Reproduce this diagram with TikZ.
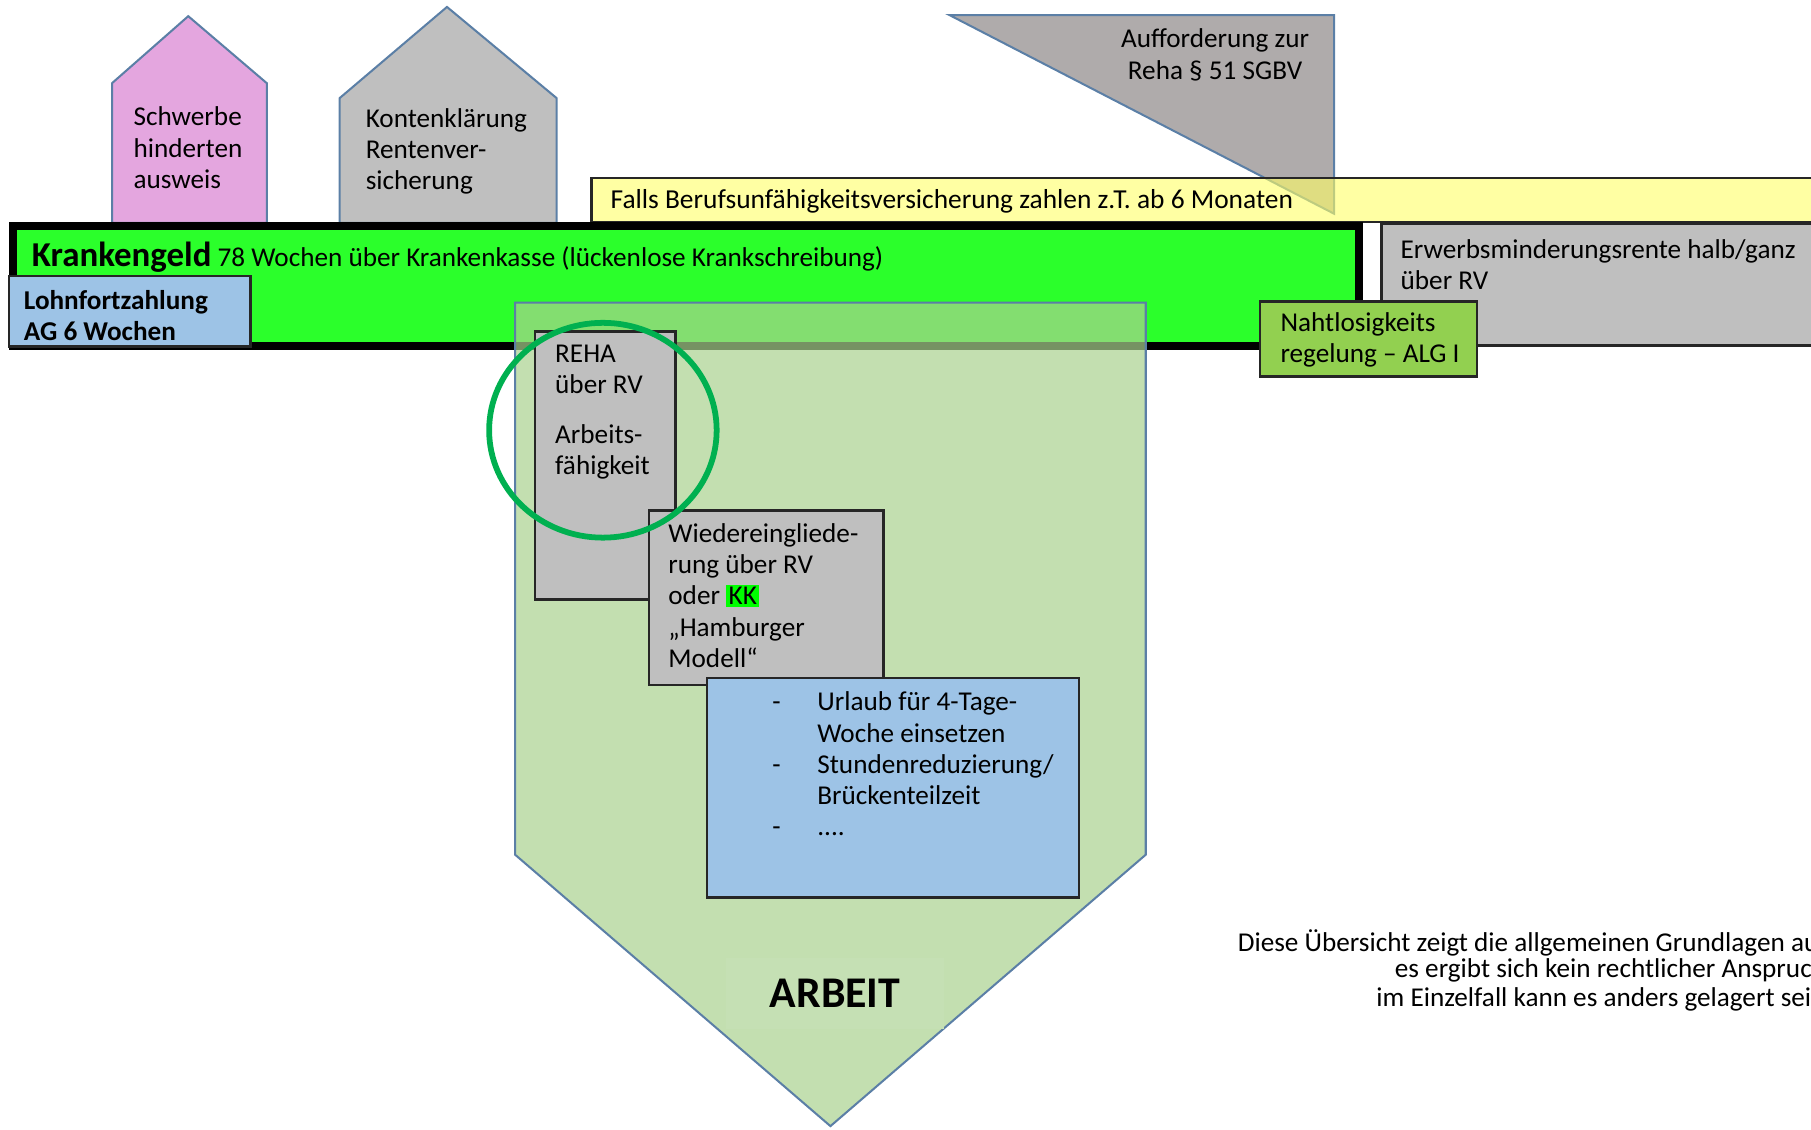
\documentclass[tikz,border=0pt]{standalone}
\usepackage{fontspec}
\setmainfont{Carlito}

\definecolor{houseViolet}{HTML}{E4A6DF}
\definecolor{boxGray}{HTML}{BFBFBF}
\definecolor{triGray}{HTML}{AFABAB}
\definecolor{paleYellow}{HTML}{FFFF66}
\definecolor{brightGreen}{HTML}{2BFF2B}
\definecolor{paleBlue}{HTML}{9DC3E6}
\definecolor{leafGreen}{HTML}{92D050}
\definecolor{ringGreen}{HTML}{00B050}
\definecolor{arrowGreen}{HTML}{A9D18E}
\definecolor{labelGreen}{HTML}{C5E0B4}
\definecolor{shapeLine}{HTML}{5B7FA6}
\definecolor{markGreen}{HTML}{00FF00}

\begin{document}
\begin{tikzpicture}
            [x=1cm, y=-1cm,
            myText/.style={font=\fontsize{6.7}{7.7}\selectfont,
                        align=left,
                        anchor=west,
                        inner sep=0pt},
            myShape/.style={draw=shapeLine, line width=0.5pt},
            myBox/.style={draw=black!85, line width=0.6pt}]

            \useasboundingbox (0,0) rectangle (15.68,9.78);
            \clip (0,0) rectangle (15.68,9.78);

            % Haeuser oben
            \draw[myShape, fill=houseViolet] (0.97,1.93) -- (0.97,0.72) -- (1.63,0.14) -- (2.31,0.72) -- (2.31,1.93) -- cycle;
            \draw[myShape, fill=boxGray] (2.94,1.93) -- (2.94,0.85) -- (3.87,0.06) -- (4.82,0.85) -- (4.82,1.93) -- cycle;
            \draw[myShape, fill=triGray] (8.22,0.13) -- (11.55,0.13) -- (11.55,1.85) -- cycle;

            \node[myText] (schwerbehindertenausweis) at (1.15,1.28) {Schwerbe\\hinderten\\ausweis};
            \node[myText] (kontenklaerung) at (3.16,1.31) {Kontenklärung\\Rentenver-\\sicherung};
            \node[myText, align=center, anchor=center] (aufforderungReha) at (10.52,0.475) {Aufforderung zur\\Reha § 51 SGBV};

            % Balken
            \draw[myBox, fill=paleYellow, fill opacity=0.6] (5.12,1.54) rectangle (16,1.92);
            \node[myText, font=\fontsize{6.75}{7.7}\selectfont] (berufsunfaehigkeit) at (5.28,1.745) {Falls Berufsunfähigkeitsversicherung zahlen z.T. ab 6 Monaten};

            \draw[line width=0.07cm, fill=brightGreen] (0.115,1.955) rectangle (11.765,2.995);
            \node[myText] (krankengeld) at (0.27,2.23) {{\bfseries\fontsize{8.6}{10}\selectfont Krankengeld} 78 Wochen über Krankenkasse (lückenlose Krankschreibung)};

            \draw[myBox, fill=boxGray] (11.96,1.94) rectangle (16,2.99);
            \node[myText] (erwerbsminderungsrente) at (12.12,2.29) {Erwerbsminderungsrente halb/ganz\\über RV};

            \draw[myBox, fill=paleBlue] (0.08,2.39) rectangle (2.17,3.00);
            \node[myText, font=\bfseries\fontsize{6.7}{7.7}\selectfont] (lohnfortzahlung) at (0.20,2.73) {Lohnfortzahlung\\AG 6 Wochen};

            \draw[myBox, fill=leafGreen] (10.91,2.61) rectangle (12.79,3.26);
            \node[myText] (nahtlosigkeit) at (11.08,2.945) {Nahtlosigkeits\\regelung -- ALG I};

            % Pfeil ARBEIT
            \draw[myShape, fill=arrowGreen, fill opacity=0.7] (4.46,2.62) -- (9.92,2.62) -- (9.92,7.40) -- (7.19,9.75) -- (4.46,7.40) -- cycle;
            \node[fill=labelGreen, minimum width=1.88cm, minimum height=0.62cm, font=\bfseries\fontsize{10.8}{13}\selectfont] (arbeit) at (7.23,8.6) {ARBEIT};

            \draw[myBox, fill=boxGray] (4.63,2.87) rectangle (5.85,5.19);
            \node[myText] (reha) at (4.80,3.57) {REHA\\über RV\\[4.5pt]Arbeits-\\fähigkeit};

            \draw[myBox, fill=boxGray] (5.62,4.42) rectangle (7.65,5.93);
            \node[myText] (wiedereingliederung) at (5.78,5.155) {Wiedereingliede-\\rung über RV\\oder {\setlength{\fboxsep}{0.6pt}\colorbox{markGreen}{KK}}\\„Hamburger\\Modell“};

            \draw[myBox, fill=paleBlue] (6.12,5.87) rectangle (9.34,7.77);
            \node[myText] (massnahmen) at (6.68,6.615) {\makebox[0.39cm][l]{-}Urlaub für 4-Tage-\\\hspace*{0.39cm}Woche einsetzen\\\makebox[0.39cm][l]{-}Stundenreduzierung/\\\hspace*{0.39cm}Brückenteilzeit\\\makebox[0.39cm][l]{-}....};

            \draw[ringGreen, line width=0.05cm] (5.22,3.725) ellipse [x radius=0.985, y radius=0.93];

            % Hinweis
            \node[myText] (hinweisA) at (10.71,8.16) {Diese Übersicht zeigt die allgemeinen Grundlagen au};
            \node[myText] (hinweisB) at (12.07,8.40) {es ergibt sich kein rechtlicher Anspruc};
            \node[myText] (hinweisC) at (11.91,8.65) {im Einzelfall kann es anders gelagert sei};
        \end{tikzpicture}
\end{document}
